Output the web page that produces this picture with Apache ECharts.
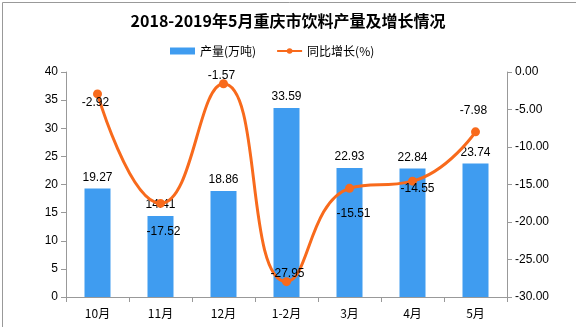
<!DOCTYPE html>
<html><head><meta charset="utf-8">
<script src="https://cdn.jsdelivr.net/npm/echarts@6/dist/echarts.min.js"></script>
<style>html,body{margin:0;padding:0;background:#fff}#c{width:576px;height:327px}</style>
</head><body><div id="c"></div>
<script>
var categories = ['10月','11月','12月','1-2月','3月','4月','5月'];
var output = [19.27, 14.41, 18.86, 33.59, 22.93, 22.84, 23.74];
var growth = [-2.92, -17.52, -1.57, -27.95, -15.51, -14.55, -7.98];
var leftTicks = {min: 0, max: 40, interval: 5};
var rightTicks = {min: -30, max: 0, interval: 5};
var lineLabelOffsets = [[-2, 9], [3, 28], [-2, -8], [1, -8], [4, 25], [5, 8], [-2, -21]];

var FONT = "'Liberation Sans', 'Noto Sans CJK SC', sans-serif";
var chart = echarts.init(document.getElementById('c'), null, {renderer: 'canvas'});
chart.setOption({
  animation: false,
  backgroundColor: '#fff',
  textStyle: {fontFamily: FONT},
  title: {
    text: '2018-2019年5月重庆市饮料产量及增长情况',
    left: 'center', top: 8,
    textStyle: {fontSize: 16, fontWeight: 'bold', color: '#000', fontFamily: "'Noto Sans CJK SC', sans-serif"}
  },
  legend: {
    left: 165, top: 40,
    itemGap: 20,
    itemWidth: 25, itemHeight: 7,
    textStyle: {fontSize: 12, color: '#000', fontFamily: "'Noto Sans CJK SC', sans-serif"},
    data: [{name: '产量(万吨)', icon: 'rect'}, {name: '同比增长(%)'}]
  },
  grid: {left: 66, right: 69, top: 72, bottom: 30},
  xAxis: {
    type: 'category', data: categories,
    axisLine: {lineStyle: {color: '#999'}},
    axisTick: {show: true, alignWithLabel: false, length: 5, lineStyle: {color: '#999'}},
    axisLabel: {color: '#000', fontSize: 12, margin: 10, fontFamily: "'Noto Sans CJK SC', sans-serif"}
  },
  yAxis: [{
    type: 'value', min: leftTicks.min, max: leftTicks.max, interval: leftTicks.interval,
    axisLine: {show: true, lineStyle: {color: '#999'}},
    axisTick: {show: true, length: 5, lineStyle: {color: '#999'}},
    splitLine: {show: false},
    axisLabel: {color: '#000', fontSize: 12, margin: 8}
  }, {
    type: 'value', min: rightTicks.min, max: rightTicks.max, interval: rightTicks.interval,
    position: 'right',
    axisLine: {show: true, lineStyle: {color: '#999'}},
    axisTick: {show: true, length: 5, lineStyle: {color: '#999'}},
    splitLine: {show: false},
    axisLabel: {color: '#000', fontSize: 12, margin: 8, formatter: function (v) { return v.toFixed(2); }}
  }],
  series: [{
    name: '产量(万吨)', type: 'bar', data: output,
    barWidth: 26,
    itemStyle: {color: '#3f9cf0'},
    label: {show: true, position: 'top', color: '#000', fontSize: 12, distance: 5}
  }, {
    name: '同比增长(%)', type: 'line', yAxisIndex: 1, smooth: true,
    data: growth.map(function (v, i) {
      return {value: v, label: {offset: lineLabelOffsets[i]}};
    }),
    symbol: 'circle', symbolSize: 9,
    lineStyle: {color: '#f86a1c', width: 3},
    itemStyle: {color: '#f86a1c'},
    label: {show: true, position: 'inside', color: '#000', fontSize: 12,
      formatter: function (p) { return p.value.toFixed(2); }},
    z: 5
  }],
  graphic: [{
    type: 'rect', left: 0, top: 0, silent: true,
    shape: {x: 0.5, y: 0.5, width: 575, height: 326},
    style: {fill: 'none', stroke: '#999', lineWidth: 1}
  }]
});
</script></body></html>
